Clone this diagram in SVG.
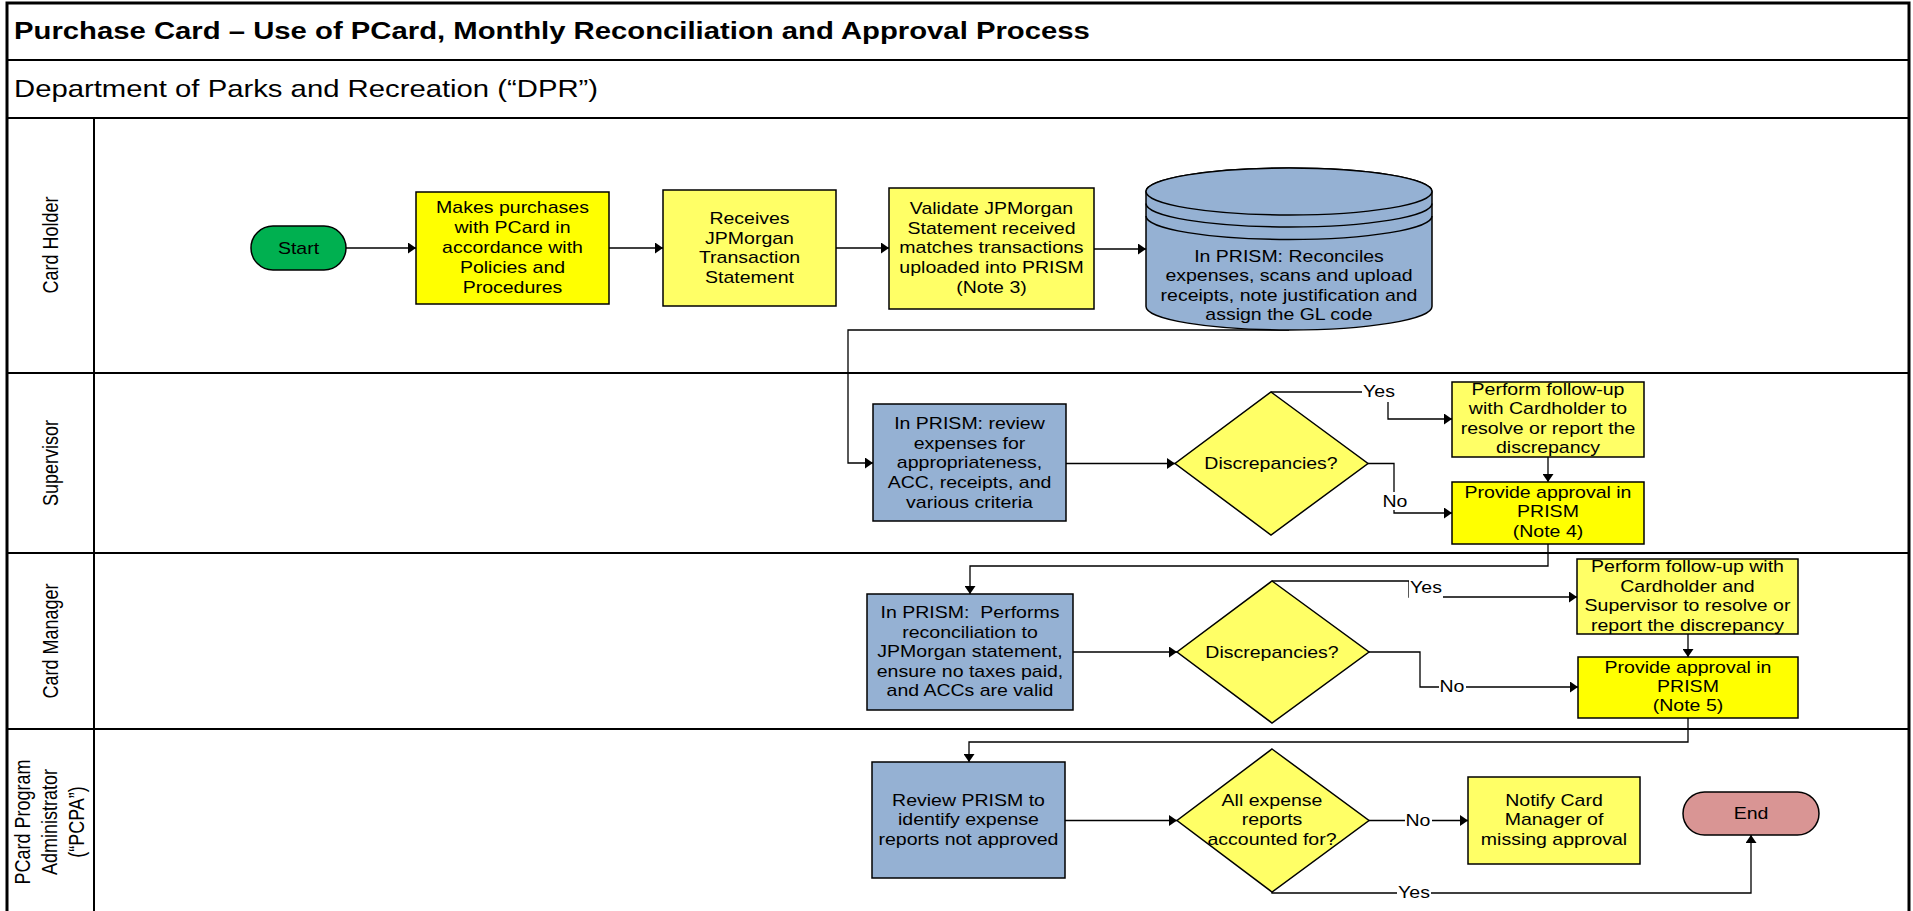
<svg xmlns="http://www.w3.org/2000/svg" width="1913" height="911" viewBox="0 0 1913 911">
<style>
.t{font-family:"Liberation Sans",Arial,sans-serif;font-size:16px;fill:#000;text-anchor:middle}
.lane{font-size:18px}
.title{font-family:"Liberation Sans",Arial,sans-serif;font-size:24px;font-weight:bold;fill:#000}
.sub{font-family:"Liberation Sans",Arial,sans-serif;font-size:24px;fill:#000}
.sh{stroke:#000;stroke-width:1.5}
.y1{fill:#FFFF00}
.y2{fill:#FFFF66}
.b{fill:#95B1D3}
.ln{fill:none;stroke:#000;stroke-width:1.3}
.frame{fill:none;stroke:#000;stroke-width:2}
.bg{fill:#FFFFFF}
</style>
<defs>
<marker id="arr" viewBox="0 0 10 10" refX="10" refY="5" markerWidth="8" markerHeight="11" markerUnits="userSpaceOnUse" orient="auto" preserveAspectRatio="none">
<path d="M0,0 L10,5 L0,10 Z" fill="#000"/>
</marker>
</defs>
<rect width="1913" height="911" fill="#FFFFFF"/>
<g id="frame">
<rect x="7" y="3" width="1902" height="930" fill="none" stroke="#000" stroke-width="3"/>
<line class="frame" x1="7" y1="60" x2="1909" y2="60" stroke-width="2.5"/>
<line class="frame" x1="7" y1="118" x2="1909" y2="118"/>
<line class="frame" x1="7" y1="373" x2="1909" y2="373"/>
<line class="frame" x1="7" y1="553" x2="1909" y2="553"/>
<line class="frame" x1="7" y1="729" x2="1909" y2="729"/>
<line class="frame" x1="94" y1="118" x2="94" y2="911"/>
<text class="title" transform="translate(14,39) scale(1.22,1)">Purchase Card – Use of PCard, Monthly Reconciliation and Approval Process</text>
<text class="sub" transform="translate(14,97) scale(1.22,1)">Department of Parks and Recreation (“DPR”)</text>
<text class="t lane" transform="translate(58,245) scale(1.22,1) rotate(-90)">Card Holder</text>
<text class="t lane" transform="translate(58,463) scale(1.22,1) rotate(-90)">Supervisor</text>
<text class="t lane" transform="translate(58,641) scale(1.22,1) rotate(-90)">Card Manager</text>
<text class="t lane" transform="translate(30,822) scale(1.22,1) rotate(-90)"><tspan x="0">PCard Program</tspan><tspan x="0" dy="22">Administrator</tspan><tspan x="0" dy="22">(“PCPA”)</tspan></text>
</g>
<g id="connectors">
<path class="ln" d="M346,248 H416" marker-end="url(#arr)"/>
<path class="ln" d="M609,248 H663" marker-end="url(#arr)"/>
<path class="ln" d="M836,248 H889" marker-end="url(#arr)"/>
<path class="ln" d="M1094,249 H1146" marker-end="url(#arr)"/>
<path class="ln" d="M1289,330 H848 V463 H873" marker-end="url(#arr)"/>
<path class="ln" d="M1066,463.5 H1175" marker-end="url(#arr)"/>
<path class="ln" d="M1271,392 H1388 V419 H1452" marker-end="url(#arr)"/>
<path class="ln" d="M1368,463.5 H1394 V513 H1452" marker-end="url(#arr)"/>
<path class="ln" d="M1548,457 V482" marker-end="url(#arr)"/>
<path class="ln" d="M1548,544 V566 H970 V594" marker-end="url(#arr)"/>
<path class="ln" d="M1073,652 H1177" marker-end="url(#arr)"/>
<path class="ln" d="M1272,581 H1409 V597 H1577" marker-end="url(#arr)"/>
<path class="ln" d="M1369,652 H1420 V687 H1578" marker-end="url(#arr)"/>
<path class="ln" d="M1688,634 V657" marker-end="url(#arr)"/>
<path class="ln" d="M1688,718 V742 H969 V762" marker-end="url(#arr)"/>
<path class="ln" d="M1065,820.5 H1177" marker-end="url(#arr)"/>
<path class="ln" d="M1369,820.5 H1468" marker-end="url(#arr)"/>
<path class="ln" d="M1272,892 V893 H1751 V835" marker-end="url(#arr)"/>
<rect class="bg" x="1362" y="382" width="34" height="20"/>
<text class="t" transform="translate(1379,397) scale(1.22,1)">Yes</text>
<rect class="bg" x="1381" y="492" width="28" height="18"/>
<text class="t" transform="translate(1395,507) scale(1.22,1)">No</text>
<rect class="bg" x="1409" y="577" width="34" height="22"/>
<text class="t" transform="translate(1426,593) scale(1.22,1)">Yes</text>
<rect class="bg" x="1439" y="678" width="27" height="18"/>
<text class="t" transform="translate(1452,692) scale(1.22,1)">No</text>
<rect class="bg" x="1405" y="812" width="27" height="18"/>
<text class="t" transform="translate(1418,826) scale(1.22,1)">No</text>
<rect class="bg" x="1397" y="884" width="34" height="18"/>
<text class="t" transform="translate(1414,898) scale(1.22,1)">Yes</text>
</g>
<g id="start">
<rect class="sh" x="251" y="226" width="95" height="44" rx="22" fill="#00B050"/>
<text class="t" transform="translate(298.5,254) scale(1.22,1)">Start</text>
</g>
<g id="makes-purchases">
<rect class="sh y1" x="416" y="192" width="193" height="112"/>
<text class="t" transform="translate(512.5,213) scale(1.22,1)"><tspan x="0">Makes purchases</tspan><tspan x="0" dy="20">with PCard in</tspan><tspan x="0" dy="20">accordance with</tspan><tspan x="0" dy="20">Policies and</tspan><tspan x="0" dy="20">Procedures</tspan></text>
</g>
<g id="receives-statement">
<rect class="sh y2" x="663" y="190" width="173" height="116"/>
<text class="t" transform="translate(749.5,224) scale(1.22,1)"><tspan x="0">Receives</tspan><tspan x="0" dy="19.7">JPMorgan</tspan><tspan x="0" dy="19.7">Transaction</tspan><tspan x="0" dy="19.7">Statement</tspan></text>
</g>
<g id="validate-statement">
<rect class="sh y2" x="889" y="188" width="205" height="121"/>
<text class="t" transform="translate(991.5,214) scale(1.22,1)"><tspan x="0">Validate JPMorgan</tspan><tspan x="0" dy="19.7">Statement received</tspan><tspan x="0" dy="19.7">matches transactions</tspan><tspan x="0" dy="19.7">uploaded into PRISM</tspan><tspan x="0" dy="19.7">(Note 3)</tspan></text>
</g>
<g id="reconcile-prism">
<path class="sh b" d="M1146,191.5 V306.5 A143,23.5 0 0 0 1432,306.5 V191.5 A143,23.5 0 0 0 1146,191.5 Z"/>
<ellipse class="sh b" cx="1289" cy="191.5" rx="143" ry="23.5"/>
<path class="sh" fill="none" d="M1146,203.5 A143,23.5 0 0 0 1432,203.5 M1146,216 A143,23.5 0 0 0 1432,216"/>
<text class="t" transform="translate(1289,262) scale(1.22,1)"><tspan x="0">In PRISM: Reconciles</tspan><tspan x="0" dy="19.4">expenses, scans and upload</tspan><tspan x="0" dy="19.4">receipts, note justification and</tspan><tspan x="0" dy="19.4">assign the GL code</tspan></text>
</g>
<g id="supervisor-review">
<rect class="sh b" x="873" y="404" width="193" height="117"/>
<text class="t" transform="translate(969.5,429) scale(1.22,1)"><tspan x="0">In PRISM: review</tspan><tspan x="0" dy="19.7">expenses for</tspan><tspan x="0" dy="19.7">appropriateness,</tspan><tspan x="0" dy="19.7">ACC, receipts, and</tspan><tspan x="0" dy="19.7">various criteria</tspan></text>
</g>
<g id="supervisor-decision">
<polygon class="sh y2" points="1271,392 1368,463.5 1271,535 1175,463.5"/>
<text class="t" transform="translate(1271,469) scale(1.22,1)">Discrepancies?</text>
</g>
<g id="supervisor-followup">
<rect class="sh y2" x="1452" y="382" width="192" height="75"/>
<text class="t" transform="translate(1548,395) scale(1.22,1)"><tspan x="0">Perform follow-up</tspan><tspan x="0" dy="19.3">with Cardholder to</tspan><tspan x="0" dy="19.3">resolve or report the</tspan><tspan x="0" dy="19.3">discrepancy</tspan></text>
</g>
<g id="supervisor-approval">
<rect class="sh y1" x="1452" y="482" width="192" height="62"/>
<text class="t" transform="translate(1548,498) scale(1.22,1)"><tspan x="0">Provide approval in</tspan><tspan x="0" dy="19.5">PRISM</tspan><tspan x="0" dy="19.5">(Note 4)</tspan></text>
</g>
<g id="manager-reconcile">
<rect class="sh b" x="867" y="594" width="206" height="116"/>
<text class="t" transform="translate(970,618) scale(1.22,1)" xml:space="preserve"><tspan x="0">In PRISM:  Performs</tspan><tspan x="0" dy="19.6">reconciliation to</tspan><tspan x="0" dy="19.6">JPMorgan statement,</tspan><tspan x="0" dy="19.6">ensure no taxes paid,</tspan><tspan x="0" dy="19.6">and ACCs are valid</tspan></text>
</g>
<g id="manager-decision">
<polygon class="sh y2" points="1272,581 1369,652 1272,723 1177,652"/>
<text class="t" transform="translate(1272,657.5) scale(1.22,1)">Discrepancies?</text>
</g>
<g id="manager-followup">
<rect class="sh y2" x="1577" y="559" width="221" height="75"/>
<text class="t" transform="translate(1687.5,572) scale(1.22,1)"><tspan x="0">Perform follow-up with</tspan><tspan x="0" dy="19.7">Cardholder and</tspan><tspan x="0" dy="19.7">Supervisor to resolve or</tspan><tspan x="0" dy="19.7">report the discrepancy</tspan></text>
</g>
<g id="manager-approval">
<rect class="sh y1" x="1578" y="657" width="220" height="61"/>
<text class="t" transform="translate(1688,673) scale(1.22,1)"><tspan x="0">Provide approval in</tspan><tspan x="0" dy="19">PRISM</tspan><tspan x="0" dy="19">(Note 5)</tspan></text>
</g>
<g id="pcpa-review">
<rect class="sh b" x="872" y="762" width="193" height="116"/>
<text class="t" transform="translate(968.5,806) scale(1.22,1)"><tspan x="0">Review PRISM to</tspan><tspan x="0" dy="19.5">identify expense</tspan><tspan x="0" dy="19.5">reports not approved</tspan></text>
</g>
<g id="pcpa-decision">
<polygon class="sh y2" points="1272,749 1369,820.5 1272,892 1177,820.5"/>
<text class="t" transform="translate(1272,806) scale(1.22,1)"><tspan x="0">All expense</tspan><tspan x="0" dy="19.5">reports</tspan><tspan x="0" dy="19.5">accounted for?</tspan></text>
</g>
<g id="notify-manager">
<rect class="sh y2" x="1468" y="777" width="172" height="87"/>
<text class="t" transform="translate(1554,806) scale(1.22,1)"><tspan x="0">Notify Card</tspan><tspan x="0" dy="19.5">Manager of</tspan><tspan x="0" dy="19.5">missing approval</tspan></text>
</g>
<g id="end">
<rect class="sh" x="1683" y="792" width="136" height="43" rx="21.5" fill="#D99594"/>
<text class="t" transform="translate(1751,819) scale(1.22,1)">End</text>
</g>
</svg>
